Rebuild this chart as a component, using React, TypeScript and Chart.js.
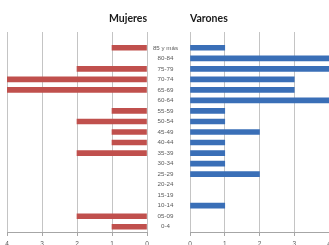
import React, { useEffect, useRef } from 'react';
import { Chart, registerables } from 'chart.js';
Chart.register(...registerables);

const ageGroups = ['85 y más', '80-84', '75-79', '70-74', '65-69', '60-64', '55-59', '50-54', '45-49', '40-44', '35-39', '30-34', '25-29', '20-24', '15-19', '10-14', '05-09', '0-4'];
const mujeres = [1, 0, 2, 4, 4, 0, 1, 2, 1, 1, 2, 0, 0, 0, 0, 0, 2, 1];
const varones = [1, 4, 4, 3, 3, 4, 1, 1, 2, 1, 1, 1, 2, 0, 0, 1, 0, 0];
const axisMin = 0;
const axisMax = 4;
const titleMujeres = 'Mujeres';
const titleVarones = 'Varones';

const fontFamily = "'Liberation Sans Narrow', 'Liberation Sans', Arial, sans-serif";
const yTickFont = { family: fontFamily, size: 6.2 };
const xTickFont = { family: fontFamily, size: 6.5, lineHeight: '7px' };
const tickColor = '#595959';
const gridColor = '#c4c4c4';
const axisColor = '#a6a6a6';

function makeConfig(values: number[], color: string, title: string, left: boolean): any {
  const labels = ['', ...ageGroups];
  const data = [null, ...values.map((v) => (v === 0 ? null : v))];
  return {
    type: 'bar',
    data: {
      labels,
      datasets: [{ data, backgroundColor: color, barThickness: 5, borderWidth: 0 }],
    },
    options: {
      indexAxis: 'y',
      animation: false,
      responsive: false,
      maintainAspectRatio: false,
      layout: { padding: left ? { left: 7, right: 13, top: 0, bottom: 0 } : { left: 0, right: 18, top: 0, bottom: 0 } },
      plugins: {
        legend: { display: false },
        tooltip: { enabled: false },
        title: {
          display: true,
          text: title,
          align: left ? 'end' : 'start',
          fullSize: false,
          color: '#1a1a1a',
          font: { family: 'Lato, sans-serif', weight: 'bold', size: 10.5, lineHeight: 1.2 },
          padding: { top: 12, bottom: 7.4 },
        },
      },
      scales: {
        x: {
          min: axisMin,
          max: axisMax,
          reverse: left,
          ticks: { stepSize: 1, font: xTickFont, color: tickColor, padding: 5, maxRotation: 0 },
          grid: { color: gridColor, tickLength: 4, tickColor: axisColor },
          border: { display: true, color: axisColor },
        },
        y: left
          ? { display: false }
          : {
              display: true,
              grid: { display: false, drawTicks: false },
              border: { display: false },
              ticks: { font: yTickFont, color: tickColor, crossAlign: 'center', padding: 12, autoSkip: false },
              afterFit: (scale: any) => { scale.width = 43; },
            },
      },
    },
  };
}

function BarCanvas({ values, color, title, left, style, width, height }: any) {
  const ref = useRef<HTMLCanvasElement>(null);
  useEffect(() => {
    const chart = new Chart(ref.current!, makeConfig(values, color, title, left));
    return () => chart.destroy();
  }, []);
  return <canvas ref={ref} width={width} height={height} style={{ position: 'absolute', ...style }} />;
}

export default function App() {
  return (
    <div style={{ position: 'fixed', left: 0, top: 0, width: 329, height: 245, overflow: 'hidden', background: '#fff' }}>
      <BarCanvas values={mujeres} color="#c0504d" title={titleMujeres} left={true} width={160} height={253} style={{ left: 0, top: 0, width: 160, height: 253 }} />
      <BarCanvas values={varones} color="#3a6fb7" title={titleVarones} left={false} width={200} height={253} style={{ left: 147, top: 0, width: 200, height: 253 }} />
    </div>
  );
}
